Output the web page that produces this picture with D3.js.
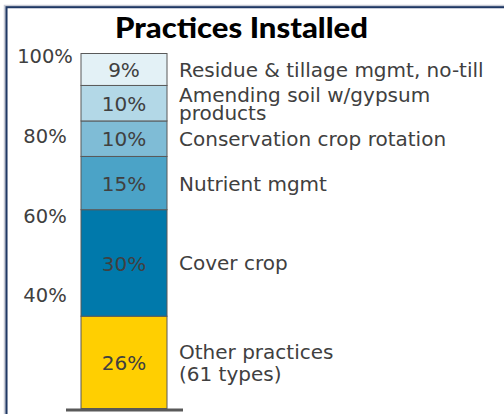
<!DOCTYPE html>
<html>
<head>
<meta charset="utf-8">
<script src="https://cdn.jsdelivr.net/npm/d3@7"></script>
<style>
  body { margin: 0; background: #fff; }
  svg { display: block; font-family: "DejaVu Sans", sans-serif; }
</style>
</head>
<body>
<div id="chart"></div>
<script>
// Stacked from the bottom up
const practices = [
    ['Other practices', '(61 types)'],
    ['Cover crop'],
    ['Nutrient mgmt'],
    ['Conservation crop rotation'],
    ['Amending soil w/gypsum', 'products'],
    ['Residue & tillage mgmt, no-till']
];
const shares = [26, 30, 15, 10, 10, 9];
const segmentColors = ['#ffcf01', '#0079ab', '#4ba3c7', '#7fbcd6', '#b3d8e7', '#e3f1f6'];
const tickValues = [40, 60, 80, 100];

const width = 504, height = 414;
const textColor = '#404040';
const bodyFont = '"DejaVu Sans", sans-serif';

const svg = d3.select('#chart').append('svg')
    .attr('width', width)
    .attr('height', height);

// Frame
svg.append('rect')
    .attr('x', 5.5).attr('y', 6.5)
    .attr('width', 700).attr('height', 700)
    .attr('fill', 'none')
    .attr('stroke', '#c9ccd6')
    .attr('stroke-width', 3.5);
svg.append('rect')
    .attr('x', 6.5).attr('y', 7.2)
    .attr('width', 700).attr('height', 700)
    .attr('fill', 'none')
    .attr('stroke', '#1f3864')
    .attr('stroke-width', 2);

// Title
svg.append('text')
    .attr('x', 115)
    .attr('y', 38.3)
    .attr('textLength', 253)
    .attr('lengthAdjust', 'spacingAndGlyphs')
    .style('font-family', 'Lato, "Noto Sans", sans-serif')
    .style('font-size', '28px')
    .style('font-weight', '900')
    .attr('fill', '#000')
    .text('Practices Installed');

// Scales
const yScale = d3.scaleLinear()
    .domain([0, 100])
    .range([408.5, 53.5]);

const tickScale = d3.scaleLinear()
    .domain([40, 100])
    .range([295.6, 56.3]);

const barX = 81, barW = 86;

const tops = d3.cumsum(shares);
const segments = shares.map((v, i) => ({
    value: v,
    y0: tops[i] - v,
    y1: tops[i],
    color: segmentColors[i],
    lines: practices[i]
}));

// Axis labels (no lines)
const axis = svg.append('g')
    .attr('transform', 'translate(45,0)')
    .call(d3.axisLeft(tickScale)
        .tickValues(tickValues)
        .tickSize(0)
        .tickPadding(0)
        .tickFormat(d => d + '%'));
axis.select('.domain').remove();
axis.selectAll('text')
    .attr('text-anchor', 'middle')
    .attr('fill', textColor)
    .style('font-family', bodyFont)
    .style('font-size', '19.5px');

// Bar segments
svg.selectAll('.segment')
    .data(segments)
    .enter().append('rect')
    .attr('class', 'segment')
    .attr('x', barX)
    .attr('y', d => yScale(d.y1))
    .attr('width', barW)
    .attr('height', d => yScale(d.y0) - yScale(d.y1))
    .attr('fill', d => d.color)
    .attr('stroke', '#595959')
    .attr('stroke-width', 1);

// Values inside bar
svg.selectAll('.value')
    .data(segments)
    .enter().append('text')
    .attr('class', 'value')
    .attr('x', barX + barW / 2)
    .attr('y', d => (yScale(d.y0) + yScale(d.y1)) / 2)
    .attr('dy', '0.38em')
    .attr('text-anchor', 'middle')
    .attr('fill', textColor)
    .style('font-size', '20px')
    .text(d => d.value + '%');

// Category labels to the right
const lineGap = { 'Other practices': 22, 'Amending soil w/gypsum': 18 };
svg.selectAll('.label')
    .data(segments)
    .enter().append('text')
    .attr('class', 'label')
    .attr('fill', textColor)
    .style('font-size', '20px')
    .each(function(d) {
        const gap = lineGap[d.lines[0]] || 20;
        const mid = (yScale(d.y0) + yScale(d.y1)) / 2;
        const first = mid + 7.5 - gap * (d.lines.length - 1) / 2;
        d3.select(this).selectAll('tspan')
            .data(d.lines)
            .enter().append('tspan')
            .attr('x', 179)
            .attr('y', (l, i) => first + i * gap)
            .text(l => l);
    });

// Baseline
svg.append('line')
    .attr('x1', 66).attr('x2', 183)
    .attr('y1', yScale(0) + 1.5).attr('y2', yScale(0) + 1.5)
    .attr('stroke', '#595959')
    .attr('stroke-width', 3);
</script>
</body>
</html>
